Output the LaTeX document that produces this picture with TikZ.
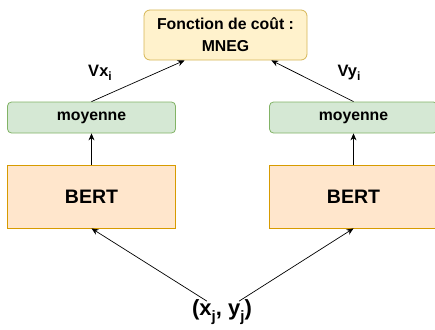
\documentclass[tikz,border=0pt]{standalone}
\usepackage{fontspec}
\setmainfont{Liberation Sans}
\usetikzlibrary{arrows.meta,calc}
\newcommand\mysub[2]{\raisebox{-0.28em}{\fontsize{#1}{#1}\selectfont #2}}
\begin{document}
\begin{tikzpicture}[x=1pt,y=-1pt,
  box/.style={draw, line width=0.8pt, minimum width=168pt, inner sep=0pt, font=\bfseries},
  costbox/.style={box, fill=costfill, draw=costdraw, rounded corners=6pt, minimum width=163pt, minimum height=50pt, align=center, font=\fontsize{15.8}{22}\selectfont\bfseries},
  meanbox/.style={box, fill=meanfill, draw=meandraw, rounded corners=4pt, minimum height=31pt, font=\fontsize{15.8}{18}\selectfont\bfseries},
  bertbox/.style={box, fill=bertfill, draw=bertdraw, minimum height=63pt, font=\fontsize{19.5}{22}\selectfont\bfseries},
  lbl/.style={inner sep=0pt, font=\fontsize{16.5}{18}\selectfont\bfseries},
  arr/.style={-{Stealth[length=7pt,width=6pt]}, line width=0.7pt, black}
]
\definecolor{costfill}{HTML}{FFF2CC}
\definecolor{costdraw}{HTML}{D6B656}
\definecolor{meanfill}{HTML}{D5E8D4}
\definecolor{meandraw}{HTML}{82B366}
\definecolor{bertfill}{HTML}{FFE6CC}
\definecolor{bertdraw}{HTML}{D79B00}
\useasboundingbox (0,0) rectangle (435,329);
\node[costbox] (cost) at (225.5,35) {Fonction de coût :\\MNEG};
\node[meanbox] (m1) at (91.5,117.5) {moyenne};
\node[meanbox] (m2) at (353.5,117.5) {moyenne};
\node[bertbox] (b1) at (91.5,196.5) {BERT};
\node[bertbox] (b2) at (353.5,196.5) {BERT};
\node[lbl, font=\fontsize{22}{24}\selectfont\bfseries] (in) at (222,312) {(x\mysub{15}{j}, y\mysub{15}{j})};
\node[lbl] (vx) at (100,73) {Vx\mysub{12}{i}};
\node[lbl] (vy) at (349,73) {Vy\mysub{12}{i}};
\draw[arr] ($(in.north)+(-15,2)$) -- (b1.south);
\draw[arr] ($(in.north)+(17,2)$) -- (b2.south);
\draw[arr] (b1.north) -- (m1.south);
\draw[arr] (b2.north) -- (m2.south);
\draw[arr] (m1.north) -- ($(cost.south west)!0.25!(cost.south east)$);
\draw[arr] (m2.north) -- ($(cost.south west)!0.78!(cost.south east)$);
\end{tikzpicture}
\end{document}
